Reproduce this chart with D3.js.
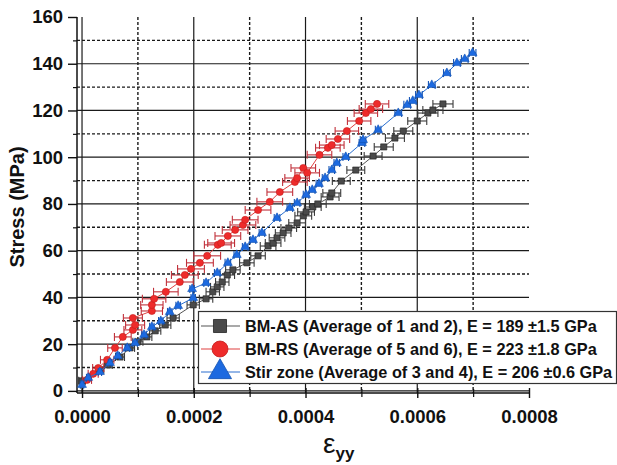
<!DOCTYPE html>
<html><head><meta charset="utf-8">
<script src="https://cdn.jsdelivr.net/npm/d3@7"></script>
<style>body{margin:0;background:#fff;} svg{display:block;font-family:"Liberation Sans",Arial,sans-serif;}</style>
</head><body>
<script>
// BM-AS (Average of 1 and 2)
const asStrain = [0.00e-4,0.32e-4,0.47e-4,0.68e-4,0.86e-4,1.00e-4,1.16e-4,1.31e-4,1.49e-4,1.63e-4,1.99e-4,2.22e-4,2.34e-4,2.42e-4,2.51e-4,2.60e-4,2.70e-4,2.95e-4,3.15e-4,3.33e-4,3.42e-4,3.49e-4,3.60e-4,3.70e-4,3.85e-4,3.96e-4,4.01e-4,4.13e-4,4.22e-4,4.44e-4,4.47e-4,4.64e-4,4.90e-4,5.21e-4,5.40e-4,5.60e-4,5.75e-4,6.00e-4,6.19e-4,6.28e-4,6.46e-4];
const asStress = [4.3,9.0,11.1,14.5,18.4,21.0,23.1,25.7,28.2,31.2,36.8,39.4,42.4,44.5,46.6,49.6,51.8,54.8,57.8,62.0,63.3,65.5,67.6,69.7,71.9,74.9,76.6,78.7,80.0,83.0,84.7,89.8,94.5,100.5,104.4,108.2,111.2,115.5,118.9,120.2,122.8];
const asErr = [0.06e-4,0.07e-4,0.07e-4,0.08e-4,0.08e-4,0.09e-4,0.09e-4,0.10e-4,0.10e-4,0.11e-4,0.11e-4,0.12e-4,0.12e-4,0.12e-4,0.12e-4,0.13e-4,0.13e-4,0.13e-4,0.13e-4,0.14e-4,0.14e-4,0.14e-4,0.14e-4,0.14e-4,0.15e-4,0.15e-4,0.15e-4,0.15e-4,0.15e-4,0.16e-4,0.16e-4,0.16e-4,0.16e-4,0.16e-4,0.17e-4,0.17e-4,0.17e-4,0.17e-4,0.18e-4,0.18e-4,0.18e-4];
// BM-RS (Average of 5 and 6)
const rsStrain = [0.09e-4,0.20e-4,0.29e-4,0.45e-4,0.59e-4,0.73e-4,0.91e-4,0.95e-4,0.91e-4,1.25e-4,1.25e-4,1.29e-4,1.50e-4,1.75e-4,1.84e-4,1.95e-4,2.11e-4,2.24e-4,2.43e-4,2.49e-4,2.61e-4,2.74e-4,2.88e-4,2.92e-4,3.15e-4,3.36e-4,3.54e-4,3.81e-4,3.85e-4,3.96e-4,4.03e-4,4.25e-4,4.40e-4,4.47e-4,4.58e-4,4.74e-4,4.96e-4,5.08e-4,5.17e-4,5.28e-4];
const rsStress = [4.7,7.3,9.8,13.3,18.4,23.1,26.1,28.2,31.2,34.2,36.8,39.4,42.4,46.6,49.6,52.2,54.8,57.8,62.5,63.3,66.3,68.9,71.0,73.2,77.4,80.9,85.1,89.4,91.1,95.4,93.3,101.0,104.0,105.2,107.8,111.2,115.5,118.9,120.6,122.8];
const rsErr = [0.08e-4,0.09e-4,0.10e-4,0.12e-4,0.13e-4,0.15e-4,0.16e-4,0.17e-4,0.17e-4,0.19e-4,0.20e-4,0.21e-4,0.22e-4,0.24e-4,0.24e-4,0.24e-4,0.24e-4,0.24e-4,0.24e-4,0.24e-4,0.23e-4,0.23e-4,0.23e-4,0.23e-4,0.23e-4,0.23e-4,0.23e-4,0.22e-4,0.22e-4,0.22e-4,0.22e-4,0.22e-4,0.22e-4,0.22e-4,0.21e-4,0.21e-4,0.21e-4,0.21e-4,0.21e-4,0.21e-4];
// Stir zone (Average of 3 and 4)
const szStrain = [0.00e-4,0.11e-4,0.32e-4,0.50e-4,0.64e-4,0.81e-4,0.95e-4,1.11e-4,1.25e-4,1.41e-4,1.57e-4,1.72e-4,1.99e-4,1.97e-4,2.22e-4,2.42e-4,2.61e-4,2.77e-4,2.92e-4,3.06e-4,3.22e-4,3.49e-4,3.72e-4,3.85e-4,4.01e-4,4.12e-4,4.24e-4,4.35e-4,4.47e-4,4.56e-4,4.72e-4,5.01e-4,5.03e-4,5.30e-4,5.66e-4,5.82e-4,5.92e-4,6.03e-4,6.26e-4,6.53e-4,6.71e-4,6.85e-4,6.99e-4];
const szStress = [2.6,5.6,8.1,12.0,15.0,18.4,20.5,24.0,27.4,29.9,33.8,36.4,39.8,43.6,46.2,50.5,54.8,58.2,61.6,64.6,67.6,74.0,78.3,80.4,83.9,86.0,88.6,91.1,94.5,97.5,100.1,106.1,107.4,111.7,118.9,122.4,124.1,126.6,130.9,136.0,140.3,142.0,144.6];
const szErr = [0.03e-4,0.03e-4,0.03e-4,0.03e-4,0.03e-4,0.04e-4,0.04e-4,0.04e-4,0.04e-4,0.04e-4,0.04e-4,0.04e-4,0.04e-4,0.04e-4,0.04e-4,0.05e-4,0.05e-4,0.05e-4,0.05e-4,0.05e-4,0.05e-4,0.05e-4,0.05e-4,0.05e-4,0.05e-4,0.05e-4,0.05e-4,0.05e-4,0.05e-4,0.05e-4,0.05e-4,0.05e-4,0.05e-4,0.05e-4,0.06e-4,0.06e-4,0.06e-4,0.06e-4,0.06e-4,0.06e-4,0.06e-4,0.06e-4,0.06e-4];

const xTicks = [0, 0.0002, 0.0004, 0.0006, 0.0008];
const xTickLabels = ["0.0000","0.0002","0.0004","0.0006","0.0008"];
const xMinor = [0.0001, 0.0003, 0.0005, 0.0007];
const yTicks = [0,20,40,60,80,100,120,140,160];
const yMinor = [10,30,50,70,90,110,130,150];
const legendLabels = [
  ["BM-AS", " (Average of 1 and 2), ", "E =", " 189 \u00B11.5 GPa"],
  ["BM-RS", " (Average of 5 and 6), ", "E =", " 223 \u00B11.8 GPa"],
  ["Stir zone", " (Average of 3 and 4), ", "E =", " 206 \u00B10.6 GPa"]
];

const W = 617, H = 465;
const svg = d3.select("body").append("svg").attr("width", W).attr("height", H);
const x = d3.scaleLinear().domain([-0.000009, 0.0008]).range([77, 529]);
const y = d3.scaleLinear().domain([-0.9, 160]).range([393, 17]);

const grid = svg.append("g");
grid.selectAll(".hmaj").data(yTicks.filter(v => v < 160)).join("line")
  .attr("x1", 77).attr("x2", 529).attr("y1", d => y(d)).attr("y2", d => y(d))
  .attr("stroke", "#1a1a1a").attr("stroke-width", 1.2);
grid.selectAll(".hmin").data(yMinor).join("line")
  .attr("x1", 77).attr("x2", 529).attr("y1", d => y(d)).attr("y2", d => y(d))
  .attr("stroke", "#1a1a1a").attr("stroke-width", 1.4).attr("stroke-dasharray", "3,2");
grid.selectAll(".vmaj").data(xTicks.filter(v => v < 0.0008)).join("line")
  .attr("x1", d => x(d)).attr("x2", d => x(d)).attr("y1", 17).attr("y2", 393)
  .attr("stroke", "#1a1a1a").attr("stroke-width", 1.2);
grid.selectAll(".vmin").data(xMinor).join("line")
  .attr("x1", d => x(d)).attr("x2", d => x(d)).attr("y1", 17).attr("y2", 393)
  .attr("stroke", "#1a1a1a").attr("stroke-width", 1.4).attr("stroke-dasharray", "3,2");

const yAxis = d3.axisLeft(y).tickValues(yTicks).tickSize(9).tickPadding(5).tickFormat(d3.format("d"));
const gy = svg.append("g").attr("transform", "translate(77,0)").call(yAxis);
gy.select(".domain").attr("stroke", "#111").attr("stroke-width", 1.5).attr("d", `M0,${y(160)}V393`);
gy.selectAll(".tick line").attr("stroke", "#111").attr("stroke-width", 1.4);
gy.selectAll("text").attr("font-size", 18.5).attr("font-weight", "bold").attr("fill", "#111");
const yAxisMinor = d3.axisLeft(y).tickValues(yMinor).tickSize(4).tickFormat("");
const gy2 = svg.append("g").attr("transform", "translate(77,0)").call(yAxisMinor);
gy2.select(".domain").remove();
gy2.selectAll(".tick line").attr("stroke", "#111").attr("stroke-width", 1.2);

const xAxis = d3.axisBottom(x).tickValues(xTicks).tickSize(5).tickPadding(12).tickFormat((d, i) => xTickLabels[i]);
const gx = svg.append("g").attr("transform", "translate(0,393)").call(xAxis);
gx.select(".domain").attr("stroke", "#111").attr("stroke-width", 1.5).attr("d", "M77,0H529");
gx.selectAll(".tick line").attr("stroke", "#111").attr("stroke-width", 1.4).attr("y1", -5);
gx.selectAll("text").attr("font-size", 18.5).attr("font-weight", "bold").attr("fill", "#111");
const xAxisMinor = d3.axisBottom(x).tickValues(xMinor).tickSize(4).tickFormat("");
const gx2 = svg.append("g").attr("transform", "translate(0,393)").call(xAxisMinor);
gx2.select(".domain").remove();
gx2.selectAll(".tick line").attr("stroke", "#111").attr("stroke-width", 1.2).attr("y1", -4);

svg.append("text").attr("transform", "translate(24,207) rotate(-90)").attr("text-anchor", "middle")
  .attr("font-size", 20).attr("font-weight", "bold").attr("fill", "#111").text("Stress (MPa)");
const xt = svg.append("text").attr("x", 323).attr("y", 453).attr("fill", "#111");
xt.append("tspan").attr("font-size", 28).text("\u03B5");
xt.append("tspan").attr("font-size", 17).attr("font-weight", "bold").attr("dy", 6).text("yy");

const series = [
  {sx: asStrain, sy: asStress, se: asErr, line: "#555", err: "#3a3a3a", fill: "#4a4a4a", stroke: "#222", shape: d3.symbolSquare, size: 38},
  {sx: rsStrain, sy: rsStress, se: rsErr, line: "#e04040", err: "#c0303a", fill: "#ee2b2b", stroke: "#c41c1c", shape: d3.symbolCircle, size: 40},
  {sx: szStrain, sy: szStress, se: szErr, line: "#2a6fd0", err: "#1656b8", fill: "#1d6ae0", stroke: "#1050b0", shape: d3.symbolTriangle, size: 34}
];
const line = d3.line().x(d => x(d[0])).y(d => y(d[1]));
series.forEach(s => {
  const pts = s.sx.map((v, i) => [v, s.sy[i], s.se[i]]);
  const g = svg.append("g");
  g.append("path").datum(pts).attr("d", line).attr("fill", "none").attr("stroke", s.line).attr("stroke-width", 1);
  const eb = g.selectAll(".eb").data(pts).join("g").attr("stroke", s.err).attr("stroke-width", 1.1);
  eb.append("line").attr("x1", d => x(d[0] - d[2])).attr("x2", d => x(d[0] + d[2])).attr("y1", d => y(d[1])).attr("y2", d => y(d[1]));
  eb.append("line").attr("x1", d => x(d[0] - d[2])).attr("x2", d => x(d[0] - d[2])).attr("y1", d => y(d[1]) - 4).attr("y2", d => y(d[1]) + 4);
  eb.append("line").attr("x1", d => x(d[0] + d[2])).attr("x2", d => x(d[0] + d[2])).attr("y1", d => y(d[1]) - 4).attr("y2", d => y(d[1]) + 4);
  g.selectAll(".m").data(pts).join("path")
    .attr("transform", d => `translate(${x(d[0])},${y(d[1])})`)
    .attr("d", d3.symbol().type(s.shape).size(s.size))
    .attr("fill", s.fill).attr("stroke", s.stroke).attr("stroke-width", 0.6);
});

const lg = svg.append("g");
lg.append("rect").attr("x", 198.5).attr("y", 311.5).attr("width", 418).attr("height", 72)
  .attr("fill", "#fff").attr("stroke", "#333").attr("stroke-width", 1.2);
const legendSizes = [170, 200, 230];
legendLabels.forEach((lab, i) => {
  const s = series[i];
  const cy = 326 + i * 23;
  lg.append("line").attr("x1", 201).attr("x2", 240).attr("y1", cy).attr("y2", cy).attr("stroke", s.line).attr("stroke-width", 1.2);
  lg.append("path").attr("transform", `translate(220,${cy})`).attr("d", d3.symbol().type(s.shape).size(legendSizes[i]))
    .attr("fill", s.fill).attr("stroke", s.stroke).attr("stroke-width", 0.8);
  const t = lg.append("text").attr("x", 245).attr("y", cy + 6).attr("font-size", 16.3).attr("font-weight", "bold").attr("fill", "#111");
  lab.forEach(p => t.append("tspan").text(p));
});
</script>
</body></html>
